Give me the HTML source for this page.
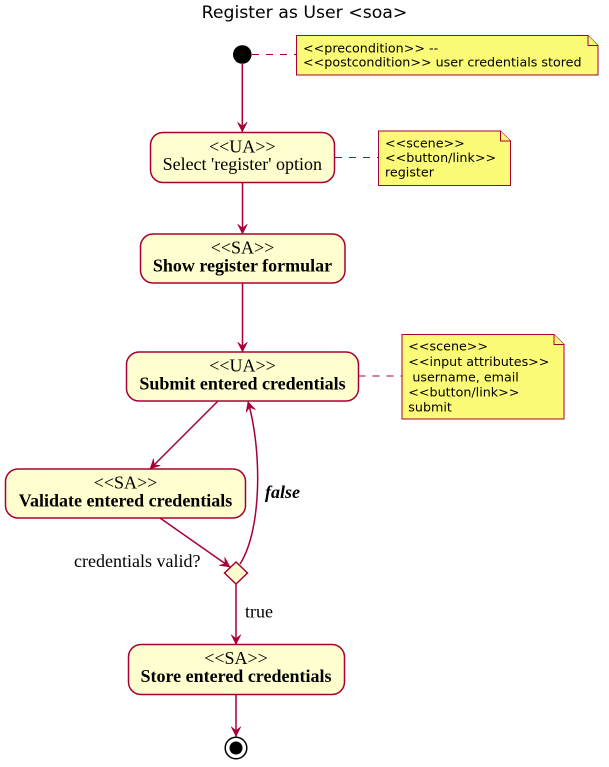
<!DOCTYPE html>
<html>
<head>
<meta charset="utf-8">
<style>
  html, body { margin: 0; padding: 0; background: #ffffff; }
  svg { display: block; }
  .title { font-family: "DejaVu Sans", "Liberation Sans", sans-serif; font-size: 17.3px; fill: #000; }
  .note { font-family: "DejaVu Sans", "Liberation Sans", sans-serif; font-size: 12.7px; fill: #000; }
  .ser { font-family: "Liberation Serif", "DejaVu Serif", serif; font-size: 18px; fill: #000; }
  .b { font-weight: bold; }
  .bi { font-weight: bold; font-style: italic; }
  .box { fill: #FEFECE; stroke: #A80036; stroke-width: 1.5; }
  .nt { fill: #FBFB77; stroke: #A80036; stroke-width: 1; }
  .edge { fill: none; stroke: #A80036; stroke-width: 1.5; }
  .dash { fill: none; stroke: #A80036; stroke-width: 1; stroke-dasharray: 7,7; }
</style>
</head>
<body>
<svg width="609" height="767" viewBox="0 0 609 767" xmlns="http://www.w3.org/2000/svg">
  <defs>
    <marker id="ah" viewBox="0 0 10 10" refX="10" refY="5" markerWidth="10" markerHeight="10" markerUnits="userSpaceOnUse" orient="auto">
      <path d="M10,5 L0,0 L4,5 L0,10 Z" fill="#A80036" stroke="#A80036" stroke-width="0.5"/>
    </marker>
  </defs>

  <!-- Title -->
  <text class="title" x="304.5" y="18" text-anchor="middle">Register as User &lt;soa&gt;</text>

  <!-- Start node -->
  <circle cx="242.3" cy="54.5" r="9.3" fill="#000"/>
  <line class="dash" x1="252" y1="54.5" x2="296" y2="54.5"/>

  <!-- Note 1 -->
  <path class="nt" d="M296.5,35.5 L588,35.5 L598,45.5 L598,75 L296.5,75 Z"/>
  <path class="nt" d="M588,35.5 L588,45.5 L598,45.5" fill="none"/>
  <text class="note" x="303" y="52.5">&lt;&lt;precondition&gt;&gt; --</text>
  <text class="note" x="303" y="66.5">&lt;&lt;postcondition&gt;&gt; user credentials stored</text>

  <!-- start -> box1 -->
  <line class="edge" x1="242.3" y1="64" x2="242.3" y2="132" marker-end="url(#ah)"/>

  <!-- Box 1 -->
  <rect class="box" x="150.5" y="132.5" width="184" height="50" rx="12.5" ry="12.5"/>
  <text class="ser" x="242.3" y="152.5" text-anchor="middle">&lt;&lt;UA&gt;&gt;</text>
  <text class="ser" x="242.3" y="170" text-anchor="middle">Select 'register' option</text>

  <!-- Note 2 -->
  <line class="dash" x1="335" y1="157.5" x2="378.5" y2="157.5"/>
  <path class="nt" d="M378.5,131 L500.5,131 L510.5,141 L510.5,185.5 L378.5,185.5 Z"/>
  <path class="nt" d="M500.5,131 L500.5,141 L510.5,141" fill="none"/>
  <text class="note" x="385" y="147.5">&lt;&lt;scene&gt;&gt;</text>
  <text class="note" x="385" y="162">&lt;&lt;button/link&gt;&gt;</text>
  <text class="note" x="385" y="176.5">register</text>

  <!-- box1 -> box2 -->
  <line class="edge" x1="242.5" y1="182.5" x2="242.5" y2="234" marker-end="url(#ah)"/>

  <!-- Box 2 -->
  <rect class="box" x="140.5" y="234" width="204.5" height="49" rx="12.5" ry="12.5"/>
  <text class="ser" x="242.5" y="253.5" text-anchor="middle">&lt;&lt;SA&gt;&gt;</text>
  <text class="ser b" x="242.5" y="271.5" text-anchor="middle">Show register formular</text>

  <!-- box2 -> box3 -->
  <line class="edge" x1="242.5" y1="283" x2="242.5" y2="352" marker-end="url(#ah)"/>

  <!-- Box 3 Submit -->
  <rect class="box" x="126.5" y="352" width="232" height="49" rx="12.5" ry="12.5"/>
  <text class="ser" x="242.5" y="371.5" text-anchor="middle">&lt;&lt;UA&gt;&gt;</text>
  <text class="ser b" x="242.5" y="389.5" text-anchor="middle">Submit entered credentials</text>

  <!-- Note 3 -->
  <line class="dash" x1="358.5" y1="376" x2="402" y2="376"/>
  <path class="nt" d="M402,334.5 L554,334.5 L564,344.5 L564,419 L402,419 Z"/>
  <path class="nt" d="M554,334.5 L554,344.5 L564,344.5" fill="none"/>
  <text class="note" x="408.3" y="350.5">&lt;&lt;scene&gt;&gt;</text>
  <text class="note" x="408.3" y="366">&lt;&lt;input attributes&gt;&gt;</text>
  <text class="note" x="408.3" y="381.5" xml:space="preserve"> username, email</text>
  <text class="note" x="408.3" y="396.5">&lt;&lt;button/link&gt;&gt;</text>
  <text class="note" x="408.3" y="411.5">submit</text>

  <!-- submit -> validate -->
  <line class="edge" x1="218" y1="401" x2="150" y2="469" marker-end="url(#ah)"/>

  <!-- Box 4 Validate -->
  <rect class="box" x="5.5" y="469" width="240" height="49" rx="12.5" ry="12.5"/>
  <text class="ser" x="125.5" y="488.5" text-anchor="middle">&lt;&lt;SA&gt;&gt;</text>
  <text class="ser b" x="125.5" y="506.5" text-anchor="middle">Validate entered credentials</text>

  <!-- validate -> diamond -->
  <line class="edge" x1="160" y1="518" x2="230" y2="567" marker-end="url(#ah)"/>

  <!-- false loop -->
  <path class="edge" d="M240,564 C262,530 262,450 248,401.5" marker-end="url(#ah)"/>
  <text class="ser bi" x="265" y="498">false</text>

  <!-- Diamond -->
  <polygon class="box" points="236,562 247.5,573 236,584 224.5,573"/>
  <text class="ser" x="74" y="567">credentials valid?</text>

  <!-- diamond -> store -->
  <line class="edge" x1="236" y1="584" x2="236" y2="644.5" marker-end="url(#ah)"/>
  <text class="ser" x="245" y="617.5">true</text>

  <!-- Box 5 Store -->
  <rect class="box" x="128.5" y="644.5" width="216" height="50" rx="12.5" ry="12.5"/>
  <text class="ser" x="236" y="664" text-anchor="middle">&lt;&lt;SA&gt;&gt;</text>
  <text class="ser b" x="236" y="682" text-anchor="middle">Store entered credentials</text>

  <!-- store -> end -->
  <line class="edge" x1="236" y1="694.5" x2="236" y2="736.5" marker-end="url(#ah)"/>

  <!-- End node -->
  <circle cx="236" cy="748" r="10.8" fill="#ffffff" stroke="#000" stroke-width="1.5"/>
  <circle cx="236" cy="748" r="6.5" fill="#000"/>
</svg>
</body>
</html>
